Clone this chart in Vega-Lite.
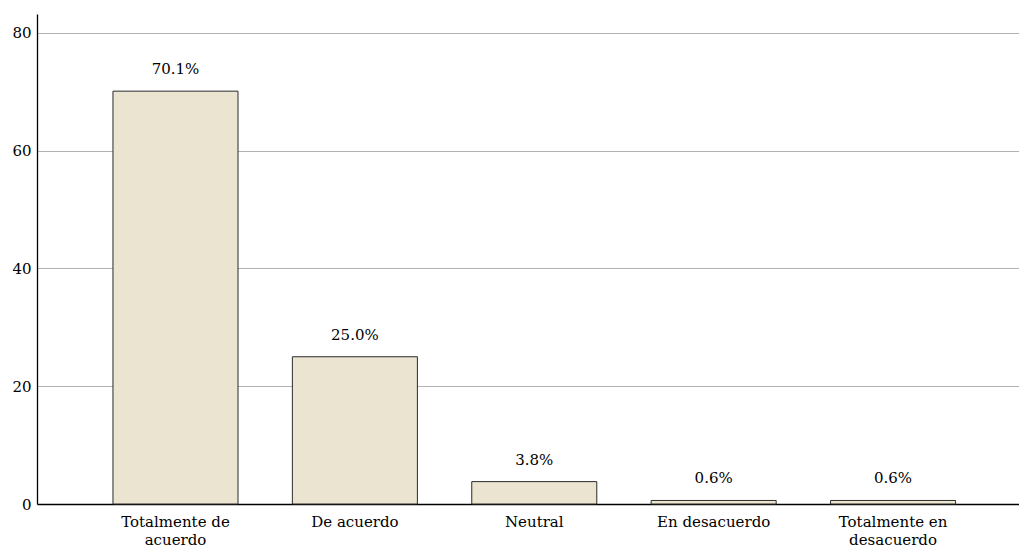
{
  "$schema": "https://vega.github.io/schema/vega-lite/v6.json",
  "width": 982,
  "height": 490,
  "autosize": {"type": "none"},
  "padding": {"left": 37, "top": 14, "right": 0, "bottom": 44},
  "background": "white",
  "config": {
    "view": {"stroke": null},
    "font": "DejaVu Serif"
  },
  "data": {
    "values": [
      {"categoria": "Totalmente de acuerdo", "porcentaje": 70.1, "etiqueta": "70.1%"},
      {"categoria": "De acuerdo", "porcentaje": 25.0, "etiqueta": "25.0%"},
      {"categoria": "Neutral", "porcentaje": 3.8, "etiqueta": "3.8%"},
      {"categoria": "En desacuerdo", "porcentaje": 0.6, "etiqueta": "0.6%"},
      {"categoria": "Totalmente en desacuerdo", "porcentaje": 0.6, "etiqueta": "0.6%"}
    ]
  },
  "encoding": {
    "x": {
      "field": "categoria",
      "type": "nominal",
      "sort": null,
      "scale": {"paddingInner": 0.303, "paddingOuter": 0.3885, "align": 0.545},
      "axis": {
        "title": null,
        "ticks": false,
        "labelAngle": 0,
        "labelFont": "DejaVu Serif",
        "labelFontSize": 15,
        "labelColor": "#000000",
        "labelPadding": 10,
        "labelLineHeight": 18,
        "domainColor": "#000000",
        "domainWidth": 1.3,
        "labelExpr": "datum.value == 'Totalmente de acuerdo' ? ['Totalmente de', 'acuerdo'] : datum.value == 'Totalmente en desacuerdo' ? ['Totalmente en', 'desacuerdo'] : datum.value"
      }
    },
    "y": {
      "field": "porcentaje",
      "type": "quantitative",
      "scale": {"domain": [0, 83.2], "nice": false},
      "axis": {
        "title": null,
        "ticks": false,
        "values": [0, 20, 40, 60, 80],
        "labelFont": "DejaVu Serif",
        "labelFontSize": 15,
        "labelColor": "#000000",
        "labelPadding": 6,
        "domainColor": "#000000",
        "domainWidth": 1.3,
        "grid": true,
        "gridColor": "#b3b3b3",
        "gridWidth": 1,
        "gridOpacity": {"condition": {"test": "datum.value == 0", "value": 0}, "value": 1}
      }
    }
  },
  "layer": [
    {
      "mark": {"type": "bar", "fill": "#EAE4D0", "stroke": "#2b2b2b", "strokeWidth": 1}
    },
    {
      "mark": {"type": "text", "baseline": "alphabetic", "dy": -17, "fontSize": 15, "font": "DejaVu Serif", "color": "#000000"},
      "encoding": {
        "text": {"field": "etiqueta", "type": "nominal"}
      }
    }
  ]
}
